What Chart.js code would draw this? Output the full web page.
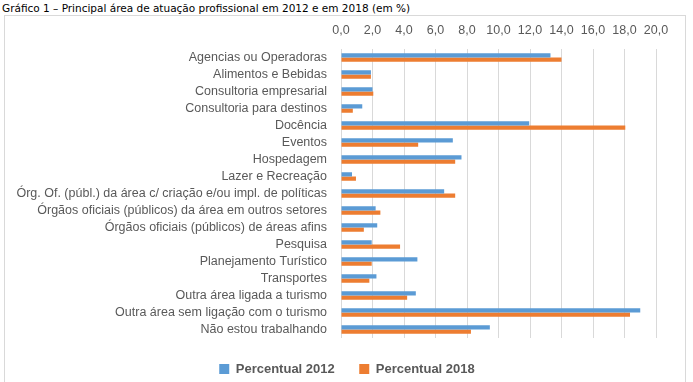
<!DOCTYPE html>
<html>
<head>
<meta charset="utf-8">
<script src="https://cdn.jsdelivr.net/npm/chart.js@4.4.1/dist/chart.umd.min.js"></script>
<style>
  html, body { margin: 0; padding: 0; width: 693px; height: 382px; overflow: hidden; background: #fff; }
  #title { position: absolute; left: 2px; top: 2px; font-family: "DejaVu Sans", sans-serif; font-size: 10.5px; color: #000; white-space: nowrap; }
  #box { position: absolute; left: 4px; top: 15px; width: 680px; height: 400px; border: 1px solid #d9d9d9; }
  #wrap { position: absolute; left: 0; top: 0; width: 680px; height: 382px; }
</style>
</head>
<body>
<div id="title">Gráfico 1 – Principal área de atuação profissional em 2012 e em 2018 (em %)</div>
<div id="box"><div id="wrap"><canvas id="c"></canvas></div></div>
<script>
const categories = [
  "Agencias ou Operadoras",
  "Alimentos e Bebidas",
  "Consultoria empresarial",
  "Consultoria para destinos",
  "Docência",
  "Eventos",
  "Hospedagem",
  "Lazer e Recreação",
  "Órg. Of. (públ.) da área c/ criação e/ou impl. de políticas",
  "Órgãos oficiais (públicos) da área em outros setores",
  "Órgãos oficiais (públicos) de áreas afins",
  "Pesquisa",
  "Planejamento Turístico",
  "Transportes",
  "Outra área ligada a turismo",
  "Outra área sem ligação com o turismo",
  "Não estou trabalhando"
];
const percentual2012 = [13.3, 1.9, 2.0, 1.35, 11.95, 7.1, 7.65, 0.7, 6.55, 2.2, 2.3, 1.95, 4.85, 2.25, 4.75, 19.0, 9.45];
const percentual2018 = [14.0, 1.9, 2.05, 0.75, 18.05, 4.9, 7.25, 0.95, 7.25, 2.5, 1.45, 3.75, 1.95, 1.8, 4.2, 18.35, 8.25];
const seriesNames = ["Percentual 2012", "Percentual 2018"];
const xTicks = [0, 2, 4, 6, 8, 10, 12, 14, 16, 18, 20];

const textColor = "#595959";

const legendShift = {
  id: "legendShift",
  afterLayout(chart) {
    const lg = chart.legend;
    if (lg) { lg.right = lg.left + 684; lg.width = 684; }
  }
};

new Chart(document.getElementById("c"), {
  type: "bar",
  data: {
    labels: categories,
    datasets: [
      { label: seriesNames[0], data: percentual2012, backgroundColor: "#5B9BD5", categoryPercentage: 0.5, barPercentage: 1.0 },
      { label: seriesNames[1], data: percentual2018, backgroundColor: "#ED7D31", categoryPercentage: 0.5, barPercentage: 1.0 }
    ]
  },
  plugins: [legendShift],
  options: {
    indexAxis: "y",
    responsive: true,
    maintainAspectRatio: false,
    animation: false,
    layout: { padding: { left: 0, right: 29, top: 0, bottom: 12.5 } },
    plugins: {
      tooltip: { enabled: false },
      legend: {
        position: "bottom",
        labels: {
          boxWidth: 10, boxHeight: 10, padding: 24.5, color: textColor,
          font: { family: "Liberation Sans", size: 13, weight: "bold" }
        }
      }
    },
    scales: {
      x: {
        position: "top",
        min: 0, max: 20,
        afterBuildTicks: (s) => { s.ticks = xTicks.map(v => ({ value: v })); },
        afterFit: (s) => { s.height = 33; },
        grid: { color: "#d9d9d9", lineWidth: 1, drawTicks: false },
        border: { display: false },
        ticks: {
          padding: 11, color: textColor,
          font: { family: "Liberation Sans", size: 12.5 },
          callback: (v) => Number(v).toFixed(1).replace(".", ",")
        }
      },
      y: {
        afterFit: (s) => { s.width = 336; },
        grid: { display: false, drawTicks: false },
        border: { display: false },
        ticks: {
          padding: 14, color: textColor, autoSkip: false,
          font: { family: "Liberation Sans", size: 12.5 }
        }
      }
    }
  }
});
</script>
</body>
</html>
